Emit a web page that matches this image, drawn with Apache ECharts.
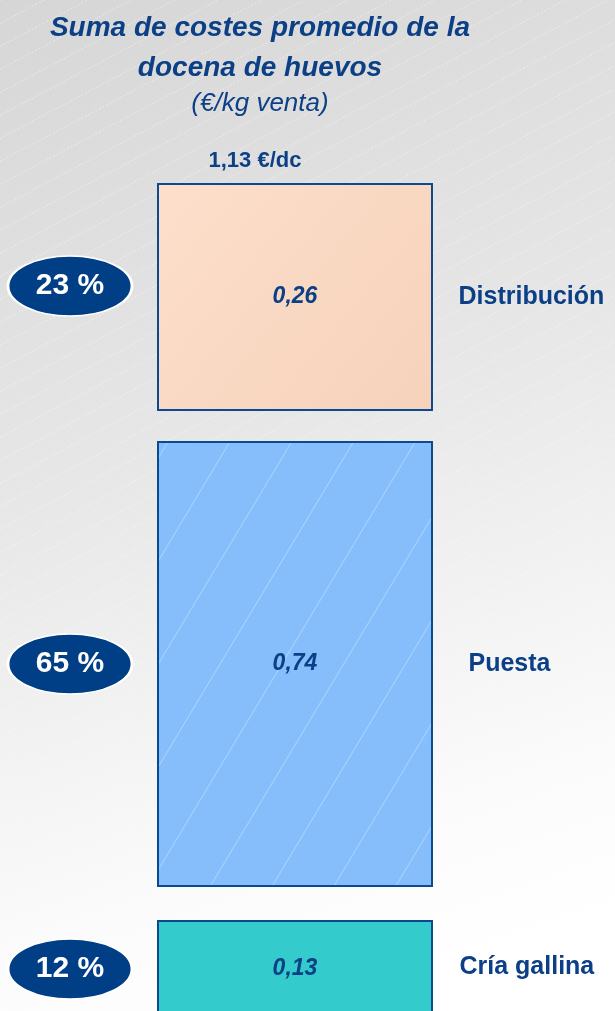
<!DOCTYPE html>
<html><head><meta charset="utf-8">
<script src="https://cdn.jsdelivr.net/npm/echarts@6/dist/echarts.min.js"></script>
<style>html,body{margin:0;padding:0;}#c{width:615px;height:1011px;}</style>
</head><body><div id="c"></div>
<script>
// Data
const categories = ['Distribución', 'Puesta', 'Cría gallina'];
const values = [0.26, 0.74, 0.13];
const percents = [23, 65, 12];
const titleLines = ['Suma de costes promedio de la', 'docena de huevos'];
const subtitle = '(€/kg venta)';
const unit = '€/dc';

// Layout (pixels)
const W = 615, H = 1011;
const gridTops = [183, 441, 920];
const gridHeights = [228, 446, 100];
const fills = [
  {type:'linear',x:0,y:0,x2:1,y2:1,colorStops:[{offset:0,color:'#fddfcb'},{offset:1,color:'#f6d2bb'}]},
  '#86befc',
  '#33cbcb'
];
const pctOffsetY = [-11, 0, -1];
const nameDist = [163, 173, 164];
const navy = '#0b3f86';

const fmt = v => v.toFixed(2).replace('.', ',');
const total = values.reduce((a, b) => a + b, 0);

// background stripe texture (decoration)
const tex = document.createElement('canvas');
tex.width = W; tex.height = H;
(function () {
  const g = tex.getContext('2d');
  g.strokeStyle = 'rgba(255,255,255,0.45)';
  g.lineWidth = 1;
  g.setLineDash([2, 2]);
  const slope = 0.53, gap = 23;
  for (let y0 = 0; y0 < H + W * slope; y0 += gap) {
    g.beginPath();
    g.moveTo(0, y0 + 0.5);
    g.lineTo(W, y0 - W * slope + 0.5);
    g.stroke();
  }
})();

const grids = [], xAxes = [], yAxes = [], series = [];
values.forEach((v, i) => {
  grids.push({left: 157, width: 276, top: gridTops[i], height: gridHeights[i], outerBoundsMode: 'none', containLabel: false});
  xAxes.push({type: 'category', gridIndex: i, data: [categories[i]], show: false});
  yAxes.push({type: 'value', gridIndex: i, min: 0, max: v, show: false});
  const itemStyle = {color: fills[i], borderColor: '#0b4a8e', borderWidth: 2};
  if (i === 1) itemStyle.decal = {symbol: 'rect', symbolSize: 1, color: 'rgba(255,255,255,0.3)',
        dashArrayX: [[1, 0]], dashArrayY: [1, 52], rotation: -1.03};
  series.push({
    type: 'bar', xAxisIndex: i, yAxisIndex: i, barWidth: '100%', clip: false,
    data: [v], itemStyle: itemStyle,
    label: {show: true, position: i === 2 ? 'insideTop' : 'inside', distance: 37, formatter: p => fmt(p.value),
      fontFamily: 'Liberation Sans', fontSize: 23, fontWeight: 'bold', fontStyle: 'italic', color: navy},
    silent: true, animation: false
  });
  series.push({
    type: 'scatter', xAxisIndex: i, yAxisIndex: i, clip: false,
    symbol: 'circle', symbolSize: [124, 60], symbolOffset: [-225, pctOffsetY[i]],
    data: [[0, v / 2]],
    itemStyle: {color: '#003e85', borderColor: '#ffffff', borderWidth: 2, opacity: 1},
    label: {show: true, position: 'inside', formatter: percents[i] + ' %',
      fontFamily: 'Liberation Sans', fontSize: 30, fontWeight: 'bold', color: '#ffffff'},
    silent: true, animation: false, z: 5
  });
  series.push({
    type: 'scatter', xAxisIndex: i, yAxisIndex: i, clip: false,
    symbol: 'rect', symbolSize: 1, symbolOffset: [0, i === 2 ? -3 : 0], data: [[0, v / 2]],
    itemStyle: {color: 'rgba(0,0,0,0)', opacity: 1},
    label: {show: true, position: 'right', distance: nameDist[i], formatter: categories[i],
      fontFamily: 'Liberation Sans', fontSize: 25, fontWeight: 'bold', color: navy},
    silent: true, animation: false
  });
});

const chart = echarts.init(document.getElementById('c'), null, {renderer: 'canvas'});
chart.setOption({
  animation: false,
  backgroundColor: {type:'linear',x:0,y:0,x2:0.55,y2:1,colorStops:[
    {offset:0,color:'#d6d6d6'},{offset:0.45,color:'#e7e7e7'},{offset:0.85,color:'#fbfbfb'},{offset:1,color:'#ffffff'}]},
  graphic: [{type: 'image', left: 0, top: 0, z: -10, silent: true,
    style: {image: tex, width: W, height: H}}],
  title: [
    {text: titleLines.join('\n'), left: 255, textAlign: 'center', top: 3,
      textStyle: {fontFamily: 'Liberation Sans', fontSize: 28, fontWeight: 'bold', fontStyle: 'italic', color: navy, lineHeight: 40}},
    {text: subtitle, left: 255, textAlign: 'center', top: 86,
      textStyle: {fontFamily: 'Liberation Sans', fontSize: 26, fontWeight: 'normal', fontStyle: 'italic', color: navy}},
    {text: fmt(total) + ' ' + unit, left: 250, textAlign: 'center', top: 145,
      textStyle: {fontFamily: 'Liberation Sans', fontSize: 22, fontWeight: 'bold', color: navy}}
  ],
  grid: grids, xAxis: xAxes, yAxis: yAxes, series: series
});
</script></body></html>
